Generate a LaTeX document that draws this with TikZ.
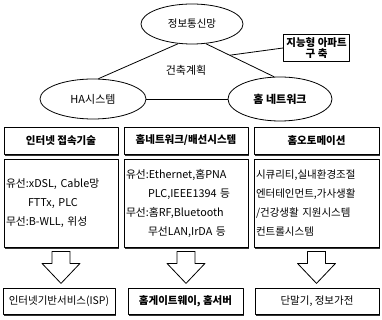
\documentclass[tikz,border=0pt]{standalone}
\usepackage{fontspec}
\setmainfont{Noto Sans CJK KR}
\usetikzlibrary{shapes.geometric,shadows}
\tikzset{
  bubble/.style={draw, ellipse, inner sep=0pt, font=\fontsize{11}{13}\selectfont},
  boxed/.style={draw, fill=white, inner sep=2pt,
    drop shadow={shadow xshift=1.3pt, shadow yshift=-1.6pt, fill=black!80, opacity=1}},
  hdr/.style={boxed, minimum height=27pt, font=\bfseries\fontsize{10.5}{12}\selectfont},
  body/.style={boxed, minimum height=88pt, align=left, font=\fontsize{10.8}{19}\selectfont},
  dnarrow/.pic={\draw[fill=white] (-9,0) -- (9,0) -- (9,12) -- (19,12) -- (0,32) -- (-19,12) -- (-9,12) -- cycle;}
}
\begin{document}
\begin{tikzpicture}[x=1pt,y=-1pt,line join=round,line width=0.8pt]
\useasboundingbox (0,0) rectangle (382,320);
% 상단: 세 요소와 건축계획
\node[bubble, minimum width=102pt, minimum height=40pt, font=\fontsize{10.5}{12}\selectfont] (net) at (192,24) {정보통신망};
\node[bubble, minimum width=106pt, minimum height=40pt] (ha) at (93,99) {HA시스템};
\node[bubble, minimum width=104pt, minimum height=44pt, font=\bfseries\fontsize{11}{13}\selectfont] (home) at (280,99) {홈 네트워크};
\node[font=\fontsize{11}{13}\selectfont] (arch) at (186,70) {건축계획};
\node[draw, anchor=west, align=center, inner sep=3pt, font=\bfseries\fontsize{10.5}{11}\selectfont] (apt) at (283,48) {지능형 아파트\\구 축};
\draw (net.235) -- (ha.75);
\draw (net.305) -- coordinate[pos=0.35] (jn) (home.105);
\draw (ha.east) -- (home.west);
\draw (apt.west) -- (jn);
% 분야별 제목
\node[hdr, minimum width=114pt] (h1) at (61,140.5) {인터넷 접속기술};
\node[hdr, minimum width=124pt] (h2) at (186,140.5) {홈네트워크/배선시스템};
\node[hdr, minimum width=125pt] (h3) at (316.5,140.5) {홈오토메이션};
% 세부 기술
\node[body, text width=110pt] (b1) at (61,203) {유선:xDSL, Cable망\\\hspace*{22pt}FTTx, PLC\\무선:B-WLL, 위성};
\node[body, text width=120pt] (b2) at (186,203) {유선:Ethernet,홈PNA\\\hspace*{22pt}PLC,IEEE1394 등\\무선:홈RF,Bluetooth\\\hspace*{22pt}무선LAN,IrDA 등};
\node[body, text width=121pt, font=\fontsize{10.5}{19}\selectfont] (b3) at (316.5,203) {시큐리티,실내환경조절\\엔터테인먼트,가사생활\\/건강생활 지원시스템\\컨트롤시스템};
% 화살표
\path (b1.south) ++(0,4) pic {dnarrow};
\path (b2.south) ++(0,4) pic {dnarrow};
\path (b3.south) ++(0,4) pic {dnarrow};
% 결과
\node[hdr, minimum width=112pt, minimum height=26pt, font=\fontsize{10.5}{12}\selectfont] (f1) at (59,301) {인터넷기반서비스(ISP)};
\node[hdr, minimum width=115pt, minimum height=26pt] (f2) at (185.5,301) {홈게이트웨이, 홈서버};
\node[hdr, minimum width=124pt, minimum height=26pt, font=\fontsize{10.5}{12}\selectfont] (f3) at (317,301) {단말기, 정보가전};
\end{tikzpicture}
\end{document}
